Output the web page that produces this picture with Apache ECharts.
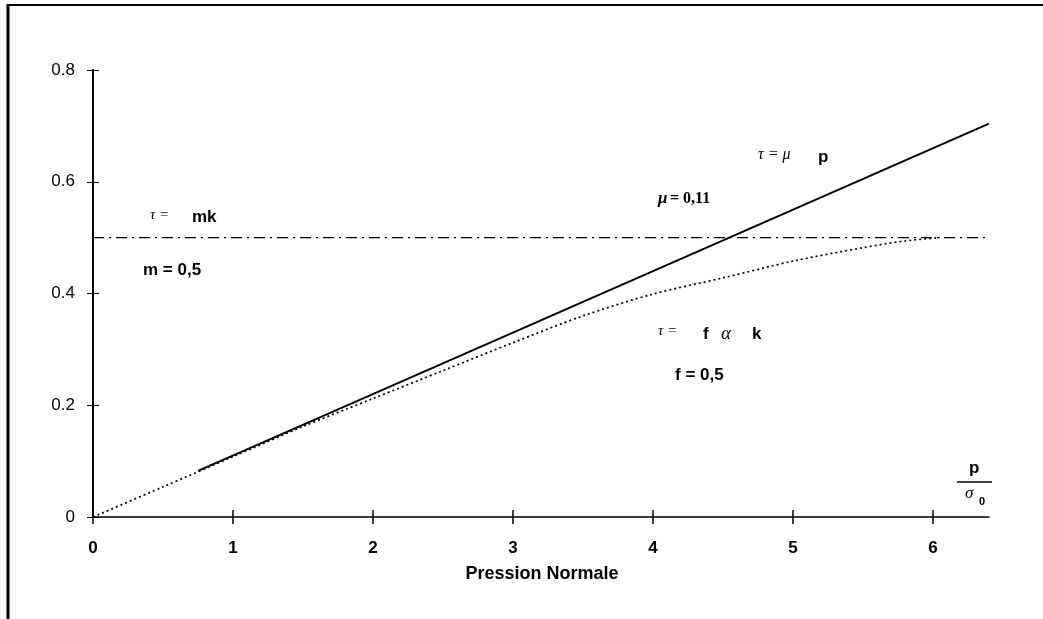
<!DOCTYPE html>
<html>
<head>
<meta charset="utf-8">
<script src="https://cdn.jsdelivr.net/npm/echarts@6/dist/echarts.min.js"></script>
<style>
html,body{margin:0;padding:0;background:#fff;}
#chart{width:1043px;height:619px;}
</style>
</head>
<body>
<div id="chart"></div>
<script>
// ---- data ----
var xTicks = [0, 1, 2, 3, 4, 5, 6];
var yTicks = [0, 0.2, 0.4, 0.6, 0.8];
// tau = mu p (mu = 0.11)
var coulombX = [0.75, 6.4];
var coulombY = [0.0825, 0.704];
// tau = m k (m = 0.5)
var shearX = [0, 6.4];
var shearY = [0.5, 0.5];
// tau = f alpha k (f = 0.5)
var wanheimX = [0, 0.5, 1, 1.5, 2, 2.5, 3, 3.5, 4, 4.5, 5, 5.5, 5.8, 6.05];
var wanheimY = [0, 0.054, 0.108, 0.162, 0.212, 0.262, 0.312, 0.36, 0.399, 0.428, 0.458, 0.482, 0.494, 0.5];

function zip(a, b) { return a.map(function (v, i) { return [v, b[i]]; }); }

var chart = echarts.init(document.getElementById('chart'));
var sans = '"Liberation Sans", Arial, sans-serif';
var serif = '"Liberation Serif", "Times New Roman", serif';

function txt(x, y, s, font, extra) {
  var st = { x: x, y: y, text: s, font: font, fill: '#000', textVerticalAlign: 'middle', textAlign: 'left' };
  if (extra) for (var k in extra) st[k] = extra[k];
  return { type: 'text', style: st, z: 10 };
}

var option = {
  animation: false,
  backgroundColor: '#fff',
  grid: { left: 93, right: 54, top: 70, bottom: 102, containLabel: false },
  xAxis: [{
    type: 'value', min: 0, max: 6.4, interval: 1,
    axisLine: { show: true, lineStyle: { color: '#000', width: 1.5 } },
    axisTick: { show: true, length: 7, customValues: xTicks, lineStyle: { color: '#000', width: 1.5 } },
    axisLabel: { customValues: xTicks, margin: 23, color: '#000', fontFamily: sans, fontSize: 17, fontWeight: 'bold' },
    splitLine: { show: false }
  }, {
    type: 'value', min: 0, max: 6.4, interval: 1, position: 'bottom',
    axisLine: { show: false },
    axisTick: { show: true, inside: true, length: 7, customValues: xTicks, lineStyle: { color: '#000', width: 1.5 } },
    axisLabel: { show: false },
    splitLine: { show: false }
  }],
  yAxis: [{
    type: 'value', min: 0, max: 0.8, interval: 0.2,
    axisLine: { show: true, lineStyle: { color: '#000', width: 2 } },
    axisTick: { show: true, length: 6, customValues: yTicks, lineStyle: { color: '#000', width: 1 } },
    axisLabel: {
      customValues: yTicks, margin: 18, color: '#000', fontFamily: sans, fontSize: 17,
      formatter: function (v) { return v === 0 ? '0' : v.toFixed(1); }
    },
    splitLine: { show: false }
  }, {
    type: 'value', min: 0, max: 0.8, interval: 0.2, position: 'left',
    axisLine: { show: false },
    axisTick: { show: true, inside: true, length: 6, customValues: yTicks, lineStyle: { color: '#000', width: 1 } },
    axisLabel: { show: false },
    splitLine: { show: false }
  }],
  series: [{
    type: 'line', name: 'mk', data: zip(shearX, shearY), showSymbol: false,
    lineStyle: { color: '#000', width: 1.4, type: [11, 5, 2, 5] }
  }, {
    type: 'line', name: 'fak', data: zip(wanheimX, wanheimY), showSymbol: false, smooth: 0.3,
    lineStyle: { color: '#000', width: 1.7, type: [2, 3] }
  }, {
    type: 'line', name: 'mup', data: zip(coulombX, coulombY), showSymbol: false,
    lineStyle: { color: '#000', width: 2 }
  }],
  graphic: [
    // frame
    { type: 'line', shape: { x1: 8, y1: 5, x2: 1043, y2: 5 }, style: { stroke: '#000', lineWidth: 2 } },
    { type: 'line', shape: { x1: 8, y1: 4, x2: 8, y2: 619 }, style: { stroke: '#000', lineWidth: 3 } },
    // axis name
    txt(542, 574, 'Pression Normale', 'bold 18px ' + sans, { textAlign: 'center' }),
    // tau = mk
    txt(150, 215, 'τ =', 'italic 15px ' + serif),
    txt(192, 217, 'mk', 'bold 17px ' + sans),
    txt(143, 270, 'm = 0,5', 'bold 17px ' + sans),
    // tau = mu p
    txt(758, 155, 'τ = μ', 'italic 16px ' + serif),
    txt(818, 157, 'p', 'bold 17px ' + sans),
    txt(658, 199, 'μ', 'italic bold 17px ' + serif),
    txt(670, 199, '= 0,11', 'bold 16px ' + serif),
    // tau = f alpha k
    txt(658, 331, 'τ =', 'italic 15px ' + serif),
    txt(703, 334, 'f', 'bold 17px ' + sans),
    txt(721, 334, 'α', 'italic 19px ' + serif),
    txt(752, 334, 'k', 'bold 17px ' + sans),
    txt(675, 375, 'f = 0,5', 'bold 17px ' + sans),
    // p / sigma0
    txt(969, 468, 'p', 'bold 17px ' + sans),
    { type: 'line', shape: { x1: 957, y1: 482, x2: 992, y2: 482 }, style: { stroke: '#000', lineWidth: 1.3 } },
    txt(965, 494, 'σ', 'italic 17px ' + serif),
    txt(979, 502, '0', 'bold 11px ' + sans)
  ]
};
chart.setOption(option);
</script>
</body>
</html>
